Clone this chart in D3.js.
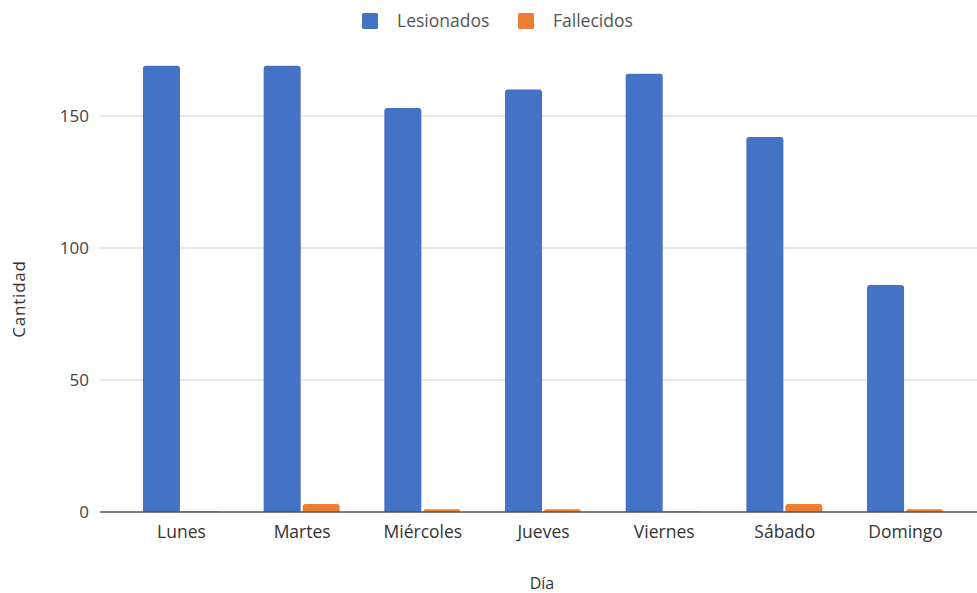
<!DOCTYPE html>
<html>
<head>
<meta charset="utf-8">
<script src="https://cdn.jsdelivr.net/npm/d3@7"></script>
<style>
  html, body { margin: 0; padding: 0; background: #fff; }
  svg { display: block; font-family: "Open Sans", "Noto Sans", sans-serif; }
</style>
</head>
<body>
<svg id="chart" width="977" height="593"></svg>
<script>
// Víctimas por día de la semana
const dias = ["Lunes", "Martes", "Miércoles", "Jueves", "Viernes", "Sábado", "Domingo"];
const lesionados = [169, 169, 153, 160, 166, 142, 86];
const fallecidos = [0, 3, 1, 1, 0, 3, 1];
const series = ["Lesionados", "Fallecidos"];
const colores = ["#4472C4", "#ED7D31"];
const yTicks = [0, 50, 100, 150];

const svg = d3.select("#chart");
const W = 977, H = 593;
const plot = { left: 100, right: 986, top: 40, bottom: 512 };

const x = d3.scalePoint().domain(dias).range([plot.left, plot.right]).padding(0.671);
const inner = d3.scaleBand().domain(series).range([-38, 38]).paddingInner(0.05);
const y = d3.scaleLinear().domain([0, 179]).range([plot.bottom, plot.bottom - 179 * 2.64]);

// gridlines
svg.append("g")
  .selectAll("line")
  .data(yTicks.filter(d => d !== 0))
  .join("line")
  .attr("x1", plot.left).attr("x2", W)
  .attr("y1", d => y(d)).attr("y2", d => y(d))
  .attr("stroke", "#cfcfcf").attr("stroke-width", 1);

// y axis labels
const yAxis = d3.axisLeft(y).tickValues(yTicks).tickSize(0).tickPadding(11);
svg.append("g")
  .attr("transform", `translate(${plot.left},0)`)
  .call(yAxis)
  .call(g => g.select(".domain").remove())
  .call(g => g.selectAll("text").attr("fill", "#444").attr("font-size", 17)
    .attr("font-family", "'Open Sans', sans-serif"));

// rounded-top bar path
function barPath(x0, w, yTop, yBase, r) {
  const h = yBase - yTop;
  if (h <= 0.6) return `M${x0},${yBase - 0.8}h${w}v0.8h${-w}Z`;
  const rr = Math.min(r, h, w / 2);
  return `M${x0},${yBase}V${yTop + rr}Q${x0},${yTop} ${x0 + rr},${yTop}` +
         `H${x0 + w - rr}Q${x0 + w},${yTop} ${x0 + w},${yTop + rr}V${yBase}Z`;
}

const datos = dias.map((d, i) => ({ dia: d, valores: [lesionados[i], fallecidos[i]] }));

const grupos = svg.append("g").selectAll("g")
  .data(datos)
  .join("g")
  .attr("transform", d => `translate(${x(d.dia)},0)`);

grupos.selectAll("path")
  .data(d => d.valores.map((v, j) => ({ serie: series[j], v, j })))
  .join("path")
  .attr("d", d => barPath(inner(d.serie), inner.bandwidth(), y(d.v), y(0), 3))
  .attr("fill", d => colores[d.j]);

// baseline
svg.append("line")
  .attr("x1", plot.left).attr("x2", W)
  .attr("y1", y(0)).attr("y2", y(0))
  .attr("stroke", "#555").attr("stroke-width", 1.5);

// x axis labels
const xAxis = d3.axisBottom(x).tickSize(0).tickPadding(14);
svg.append("g")
  .attr("transform", `translate(0,${y(0)})`)
  .call(xAxis)
  .call(g => g.select(".domain").remove())
  .call(g => g.selectAll("text").attr("fill", "#333").attr("font-size", 17.5)
    .attr("font-family", "'Open Sans', sans-serif"));

// axis titles
svg.append("text")
  .attr("x", 542).attr("y", 589)
  .attr("text-anchor", "middle")
  .attr("fill", "#333").attr("font-size", 16)
  .text("Día");

svg.append("text")
  .attr("transform", "translate(25,299) rotate(-90)")
  .attr("text-anchor", "middle")
  .attr("fill", "#333").attr("font-size", 17)
  .attr("letter-spacing", 0.8)
  .text("Cantidad");

// legend
const legendItems = [
  { name: series[0], color: colores[0], sx: 362, tx: 397 },
  { name: series[1], color: colores[1], sx: 518, tx: 553 }
];
const legend = svg.append("g");
legend.selectAll("rect")
  .data(legendItems)
  .join("rect")
  .attr("x", d => d.sx).attr("y", 13)
  .attr("width", 16).attr("height", 16)
  .attr("rx", 1.5)
  .attr("fill", d => d.color);
legend.selectAll("text")
  .data(legendItems)
  .join("text")
  .attr("x", d => d.tx).attr("y", 21)
  .attr("dy", "0.35em")
  .attr("fill", "#555").attr("font-size", 17.5)
  .text(d => d.name);
</script>
</body>
</html>
